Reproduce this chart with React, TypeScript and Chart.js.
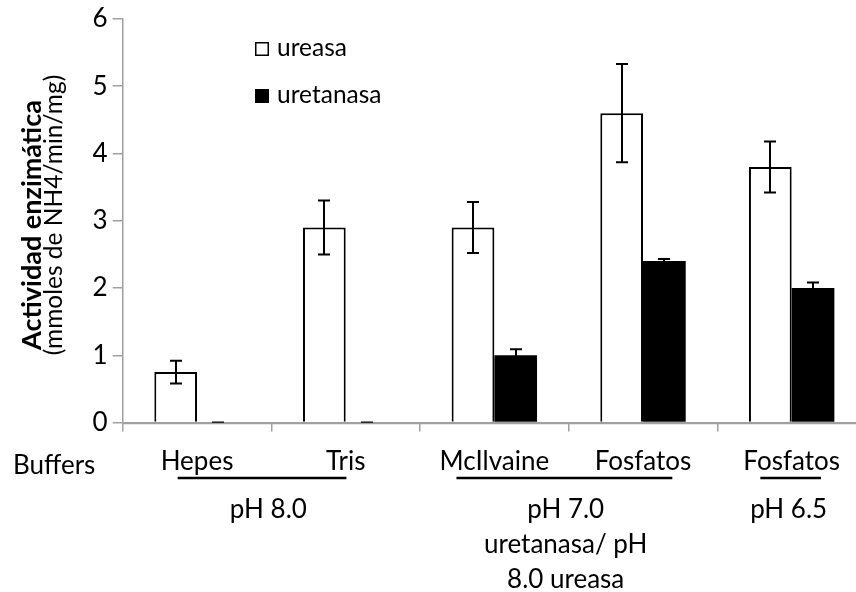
import React, { useEffect, useRef } from "react";
import { Chart, registerables } from "chart.js";

Chart.register(...registerables);

const categories = ["Hepes", "Tris", "McIlvaine", "Fosfatos", "Fosfatos"];
const seriesNames = ["ureasa", "uretanasa"];
const ureasaValues = [0.75, 2.9, 2.9, 4.6, 3.8];
const ureasaErrors = [0.17, 0.4, 0.38, 0.73, 0.38];
const uretanasaValues = [0, 0, 1.0, 2.4, 2.0];
const uretanasaErrors = [0, 0, 0.09, 0.03, 0.08];
const yMin = 0;
const yMax = 6;
const yStep = 1;
const axisTitle = "Actividad enzimática";
const axisSubtitle = "(mmoles de NH4/min/mg)";
const rowLabel = "Buffers";
const groupFirst = [0, 2, 4];
const groupLast = [1, 3, 4];
const groupLabels = [["pH 8.0"], ["pH 7.0", "uretanasa/ pH", "8.0 ureasa"], ["pH 6.5"]];

const FONT = "Lato, 'Noto Sans', sans-serif";
const AXIS_COLOR = "#a0a0a0";
const TEXT_SIZE = 26;

const overlayPlugin = {
  id: "overlay",
  afterDatasetsDraw(chart: any) {
    const ctx = chart.ctx;
    const ys = chart.scales.y;
    const errs = [ureasaErrors, uretanasaErrors];
    ctx.save();
    chart.data.datasets.forEach((ds: any, di: number) => {
      const meta = chart.getDatasetMeta(di);
      meta.data.forEach((bar: any, i: number) => {
        const v = ds.data[i];
        const e = errs[di][i];
        const cx = Math.round(bar.x);
        const yt = ys.getPixelForValue(v + e);
        const yb = ys.getPixelForValue(v - e);
        ctx.strokeStyle = "#000";
        ctx.lineWidth = 2;
        ctx.beginPath();
        ctx.moveTo(cx, yt);
        ctx.lineTo(cx, yb);
        ctx.moveTo(cx - 6, yt);
        ctx.lineTo(cx + 6, yt);
        ctx.moveTo(cx - 6, yb);
        ctx.lineTo(cx + 6, yb);
        ctx.stroke();
      });
    });
    // redraw baseline over bars (as in the original)
    const y0 = Math.round(ys.getPixelForValue(0)) + 0.5;
    ctx.strokeStyle = AXIS_COLOR;
    ctx.lineWidth = 1.5;
    ctx.beginPath();
    ctx.moveTo(chart.chartArea.left, y0);
    ctx.lineTo(chart.chartArea.right, y0);
    ctx.stroke();
    ctx.restore();
  },
  afterDraw(chart: any) {
    const ctx = chart.ctx;
    const xs = chart.scales.x;
    ctx.save();
    ctx.fillStyle = "#000";

    // y-axis titles (rotated)
    ctx.save();
    ctx.translate(41, 225);
    ctx.rotate(-Math.PI / 2);
    ctx.textAlign = "center";
    ctx.textBaseline = "alphabetic";
    ctx.font = `bold 27px ${FONT}`;
    ctx.fillText(axisTitle, 0, 0);
    ctx.restore();

    ctx.save();
    ctx.translate(62, 215);
    ctx.rotate(-Math.PI / 2);
    ctx.textAlign = "center";
    ctx.textBaseline = "alphabetic";
    ctx.font = `24.5px ${FONT}`;
    ctx.fillText(axisSubtitle, 0, 0);
    ctx.restore();

    // legend
    const legendX = 255;
    const legendBase = [56, 103];
    ctx.font = `24.5px ${FONT}`;
    ctx.textAlign = "left";
    ctx.textBaseline = "alphabetic";
    chart.data.datasets.forEach((ds: any, di: number) => {
      const b = legendBase[di];
      ctx.fillStyle = ds.backgroundColor;
      ctx.fillRect(legendX, b - 14, 14, 14);
      ctx.strokeStyle = "#000";
      ctx.lineWidth = 1.5;
      ctx.strokeRect(legendX + 0.75, b - 14 + 0.75, 12.5, 12.5);
      ctx.fillStyle = "#000";
      ctx.fillText(seriesNames[di], 277, b);
    });

    // row label
    ctx.font = `${TEXT_SIZE}px ${FONT}`;
    ctx.textAlign = "left";
    ctx.fillText(rowLabel, 13, 474);

    // group underlines and labels
    for (let g = 0; g < groupFirst.length; g++) {
      const a = groupFirst[g];
      const b = groupLast[g];
      const xa = xs.getPixelForValue(a);
      const xb = xs.getPixelForValue(b);
      const wa = ctx.measureText(categories[a]).width;
      const wb = ctx.measureText(categories[b]).width;
      const left = xa - wa / 2 + 17;
      const right = xb + wb / 2 - 19;
      ctx.strokeStyle = "#000";
      ctx.lineWidth = 2.5;
      ctx.beginPath();
      ctx.moveTo(left, 478);
      ctx.lineTo(right, 478);
      ctx.stroke();
      const mid = (xa + xb) / 2 - 3;
      ctx.textAlign = "center";
      groupLabels[g].forEach((t, li) => {
        ctx.fillText(t, mid, 518 + li * 35);
      });
    }
    ctx.restore();
  },
};

export default function App() {
  const ref = useRef<HTMLCanvasElement>(null);
  useEffect(() => {
    const chart = new Chart(ref.current as HTMLCanvasElement, {
      type: "bar",
      data: {
        labels: categories,
        datasets: [
          {
            label: seriesNames[0],
            data: ureasaValues,
            backgroundColor: "#ffffff",
            borderColor: "#000000",
            borderWidth: 2,
            borderSkipped: "start",
          },
          {
            label: seriesNames[1],
            data: uretanasaValues,
            backgroundColor: "#000000",
            borderColor: "#000000",
            borderWidth: 0,
          },
        ],
      },
      options: {
        animation: false,
        responsive: false,
        devicePixelRatio: 1,
        datasets: { bar: { categoryPercentage: 0.5745, barPercentage: 1.0 } },
        layout: { padding: { left: 0, right: 14, top: 19, bottom: 0 } },
        plugins: {
          legend: { display: false },
          tooltip: { enabled: false },
          title: { display: false },
        },
        scales: {
          x: {
            grid: {
              offset: true,
              drawOnChartArea: false,
              drawTicks: true,
              tickLength: 9,
              color: AXIS_COLOR,
              lineWidth: 1.5,
            },
            border: { display: true, color: AXIS_COLOR, width: 1.5 },
            ticks: {
              font: { family: FONT, size: TEXT_SIZE },
              color: "#000",
              padding: 15,
              maxRotation: 0,
              autoSkip: false,
            },
            afterFit: (s: any) => {
              s.height = 169.5;
              s.paddingLeft = 0;
              s.paddingRight = 0;
            },
          },
          y: {
            min: yMin,
            max: yMax,
            ticks: {
              stepSize: yStep,
              font: { family: FONT, size: TEXT_SIZE },
              color: "#000",
              padding: 5,
            },
            grid: {
              drawOnChartArea: false,
              drawTicks: true,
              tickLength: 10,
              color: AXIS_COLOR,
              lineWidth: 1.5,
            },
            border: { display: true, color: AXIS_COLOR, width: 1.5 },
            afterFit: (s: any) => {
              s.width = 122.7;
              s.paddingTop = 0;
              s.paddingBottom = 0;
            },
          },
        },
      },
      plugins: [overlayPlugin],
    });
    return () => chart.destroy();
  }, []);
  return (
    <div
      style={{
        position: "fixed",
        left: 0,
        top: 0,
        width: 856,
        height: 592,
        overflow: "hidden",
        background: "#ffffff",
      }}
    >
      <canvas
        ref={ref}
        width={880}
        height={592}
        style={{ display: "block", width: 880, height: 592 }}
      />
    </div>
  );
}
